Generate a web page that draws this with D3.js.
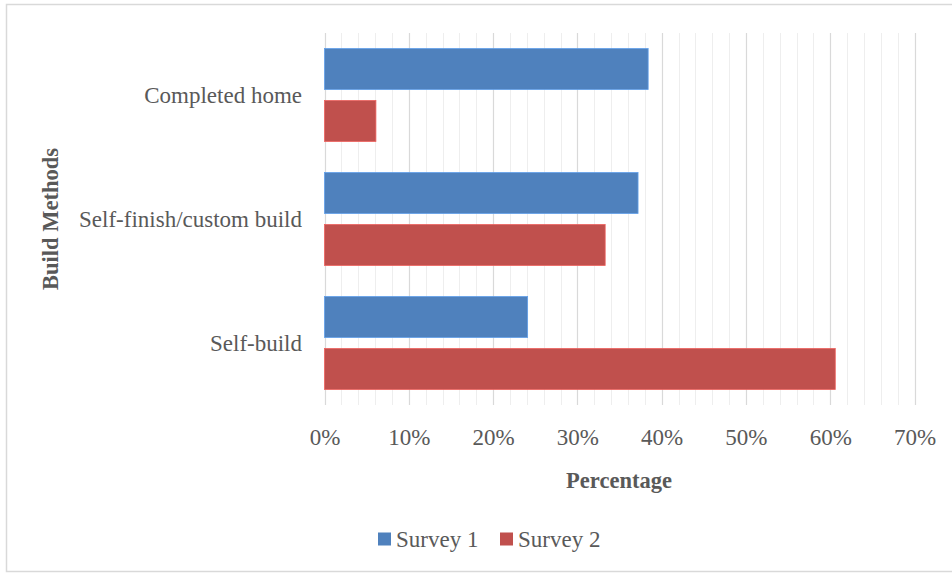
<!DOCTYPE html>
<html>
<head>
<meta charset="utf-8">
<script src="https://cdn.jsdelivr.net/npm/d3@7"></script>
<style>
  html, body { margin: 0; padding: 0; background: #fff; }
  svg { display: block; }
  text { font-family: "Liberation Serif", "DejaVu Serif", serif; fill: #595959; }
</style>
</head>
<body>
<svg id="chart" width="952" height="576"></svg>
<script>
// Build methods and the share of respondents in each survey
const categories = ["Completed home", "Self-finish/custom build", "Self-build"];
const seriesNames = ["Survey 1", "Survey 2"];
const survey1 = [0.384, 0.372, 0.241];
const survey2 = [0.061, 0.333, 0.606];
const xTicks = [0, 0.1, 0.2, 0.3, 0.4, 0.5, 0.6, 0.7];
const colors = ["#4F81BD", "#C0504D"];

const values = [survey1, survey2];
const rows = categories.map((c, i) => ({
  category: c,
  bars: seriesNames.map((s, j) => ({ series: s, value: values[j][i], color: colors[j] }))
}));

const FONT = '"Liberation Serif", "DejaVu Serif", serif';
const svg = d3.select("#chart");

// outer frame
svg.append("rect")
  .attr("x", 6.5).attr("y", 4.5)
  .attr("width", 950).attr("height", 567)
  .attr("fill", "none").attr("stroke", "#d9d9d9").attr("stroke-width", 1.5);

const plot = { left: 324.5, right: 914.5, top: 33, bottom: 405 };

const x = d3.scaleLinear().domain([0, 0.7]).range([plot.left, plot.right]);
const y0 = d3.scaleBand().domain(categories).range([plot.top, plot.bottom])
  .paddingInner(0.25).paddingOuter(0.125);
const y1 = d3.scaleBand().domain(seriesNames).range([0, y0.bandwidth()])
  .paddingInner(0.21);

// gridlines: light every 2%, darker every 10%
const minor = d3.range(0, 0.7001, 0.02);
svg.append("g").selectAll("line").data(minor).join("line")
  .attr("x1", d => Math.round(x(d)) + 0.5).attr("x2", d => Math.round(x(d)) + 0.5)
  .attr("y1", plot.top).attr("y2", plot.bottom)
  .attr("stroke", "#eeeeee").attr("stroke-width", 1);
svg.append("g").selectAll("line").data(xTicks).join("line")
  .attr("x1", d => Math.round(x(d)) + 0.5).attr("x2", d => Math.round(x(d)) + 0.5)
  .attr("y1", plot.top).attr("y2", plot.bottom)
  .attr("stroke", "#d9d9d9").attr("stroke-width", 1.2);

// bars
const groups = svg.append("g").selectAll("g").data(rows).join("g")
  .attr("transform", d => `translate(0,${y0(d.category)})`);
groups.selectAll("rect").data(d => d.bars).join("rect")
  .attr("x", x(0))
  .attr("y", d => y1(d.series))
  .attr("width", d => x(d.value) - x(0))
  .attr("height", y1.bandwidth())
  .attr("fill", d => d.color)
  .attr("stroke", d => d3.color(d.color).brighter(0.6))
  .attr("stroke-width", 0.8);

// x axis tick labels
const xAxis = d3.axisBottom(x).tickValues(xTicks).tickFormat(d3.format(".0%")).tickSize(0).tickPadding(0);
const gx = svg.append("g").attr("transform", `translate(0,${plot.bottom})`).call(xAxis);
gx.select(".domain").remove();
gx.selectAll("text")
  .attr("y", 40).attr("dy", null)
  .style("font-family", FONT)
  .style("font-size", "23px").style("fill", "#595959");

// category labels
const yAxis = d3.axisLeft(y0).tickSize(0).tickPadding(0);
const gy = svg.append("g").attr("transform", "translate(302,0)").call(yAxis);
gy.select(".domain").remove();
gy.selectAll("text")
  .attr("dy", "0.35em")
  .style("font-family", FONT)
  .style("font-size", "23px").style("fill", "#595959");

// axis titles
svg.append("text")
  .attr("x", 619).attr("y", 488)
  .attr("text-anchor", "middle")
  .style("font-size", "22.5px").style("font-weight", "bold")
  .text("Percentage");
svg.append("text")
  .attr("transform", "translate(58,219) rotate(-90)")
  .attr("text-anchor", "middle")
  .style("font-size", "22.5px").style("font-weight", "bold")
  .text("Build Methods");

// legend
const legend = svg.append("g").attr("transform", "translate(378,539)");
const items = legend.selectAll("g").data(seriesNames).join("g")
  .attr("transform", (d, i) => `translate(${i * 122},0)`);
items.append("rect")
  .attr("x", 0).attr("y", -6.5).attr("width", 13).attr("height", 13)
  .attr("fill", (d, i) => colors[i]);
items.append("text")
  .attr("x", 18).attr("y", 0).attr("dy", "0.35em")
  .style("font-size", "23px")
  .text(d => d);
</script>
</body>
</html>
